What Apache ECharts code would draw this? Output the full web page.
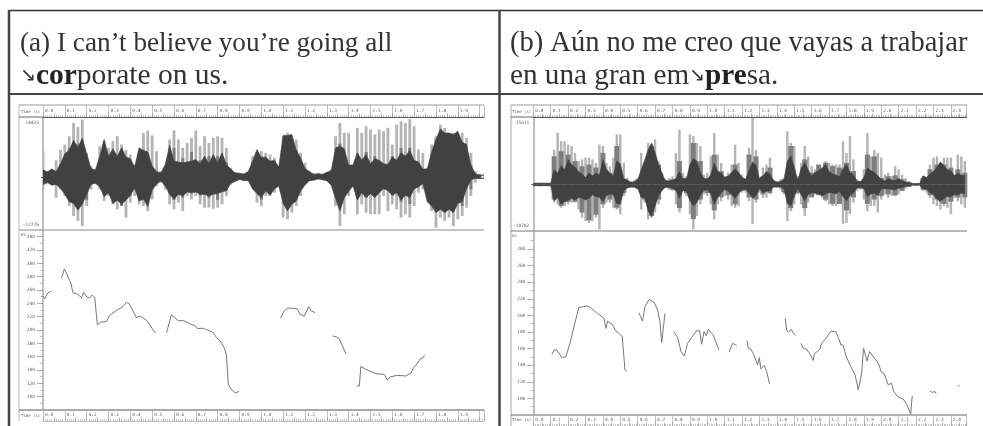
<!DOCTYPE html>
<html><head><meta charset="utf-8">
<script src="https://cdn.jsdelivr.net/npm/echarts@6/dist/echarts.min.js"></script>
<style>html,body{margin:0;padding:0;background:#fff}#c{width:983px;height:426px}</style></head>
<body><div id="c"></div>
<script>
// Waveform envelopes, in thousands of sample units. Light/dark sampled every 0.02 s, mid every 0.04 s.
const waveALightUp=[6.2,1.4,1.8,4,6.5, 7.8,9.8,13,12,13.8, 5.8,2.6,1.4,7.4,8.6, 7,8.6,9.8,7.8,6.5, 5.4,3,5,10.6,11.2, 10,6.2,1.4,2.2,9, 11.2,9,7,8.2,9.4, 11.2,7.4,9.8,8.2,9.4, 9.8,9.4,7,2.2,1, .8,.8,1,5,5.8, 6.2,5.8,5.4,4.6,2.6, 9.8,10.6,7.8,9,5.8, 3.4,1.4,1,.8,.8, 1,1.8,9.8,13,10.6, 10.6,2.2,11.8,10.6,12.2, 11.4,10.2,11.4,11,11.8, 7.8,12.6,13.4,13,13.9, 12.2,6.6,5.8,2.2,7.8, 9.8,12.6,11.8,10.2,10.6, 9.8,10.6,9.4,5.8,1.4, .8,.8];
const waveALightDown=[3,1.8,1.8,5,3, 4.6,7,9.4,10.6,11.8, 7,3,1.8,3,5.8, 4.6,6.6,7.8,6.6,9.8, 6.2,4.6,6.6,7,8.2, 5.4,2.2,1.4,3,6.6, 7.8,6.2,8.2,4.6,5.4, 4.6,6.6,7.4,7.4,7.7, 7.4,6.6,4.6,1.8,1, .6,.6,.6,2.2,6.2, 7,4.6,4.6,3.8,1.8, 9.8,10.2,8.6,7,4.6, 1.8,1,.8,.6,.6, .9,1.8,7,11.8,9, 4.6,1.8,9,6.6,8.6, 9,9,9,4.6,8.2, 6.6,7.8,9.8,9,9.8, 7,3.8,3,2.2,8.2, 12.2,9.8,10.6,9.8,11.8, 10.2,9.4,7.4,4.6,1.4, .5,.5];
const waveAMidUp=[1.5,1.8,3,7,8,4.5,1.4,7.8,5.5,6,3.5,5.5,5.5,1.2,2.2,7,4.5,6,4,5,5,3.5,1,.7,3.6,5,3.5,2,9.5,6.5,2,.6,.6,1.6,8,3,5.5,6,5,3,5,7,7,2,1.5,9,10,9.5,8,3,.6];
const waveAMidDown=[1.5,1.5,2,3.5,7,5.5,1.6,4,5,7,4.5,5,5.5,1.5,2,5.5,5,3.5,4.5,5,5.5,3,.8,.5,1.8,5.5,3.5,1.8,7.5,5.5,1.5,.5,.5,1.5,7,2.5,5,5,4,3,4.5,6,6.5,2,1.5,7,8,8,7,3,.4];
const waveADarkUp=[1.7,1.2,1.9,1.3,3.2, 5.6,6.4,8.8,7,9.4, 5.6,2,1.7,5,9, 5,6.8,5,7,4.8, 4.4,2.4,7,6.4,6, 2.6,1.3,1,3,7.6, 3.8,3.6,3.4,3.6,3.8, 4.2,3.2,5,3.2,5.4, 3.4,5.8,3,1.9,1, .9,.7,1.3,3.8,6.6, 4.6,4.8,3.8,4,2.4, 10,10,10.2,6.4,4.6, 2,1.3,.6,.8,.6, 1.1,1.5,7,7.4,6.8, 2.8,2.9,5.8,4,5.4, 3.2,4.4,4,3.2,3, 4.8,4,5.8,5,6.4, 4,3.6,1.9,1.9,6, 9,11.6,10.6,10.6,10.2, 11,8.4,7.8,2.8,.8, .4,.4];
const waveADarkDown=[1.9,1.3,2,1.8,2.8, 4.2,6,6.4,8,6.6, 4.2,1.8,1.5,2.4,4.8, 3.8,6.4,5.6,6.6,5.6, 4.4,2.7,5.8,5.4,7.2, 3.2,1.7,1,2.2,4.2, 5.4,4.2,4.6,3.6,3.9, 3.6,4.2,4.2,4.6,4.2, 4,3.6,3.3,1.6,1.1, .6,.9,.9,2.9,4, 5,3.4,4.4,2.9,2.2, 6.4,8.2,6.6,5.8,3.4, 2,.9,.8,.5,.7, .9,2,5.2,8.2,5, 3.5,2.2,5.6,3.8,5, 4,5,3.8,2.8,3.3, 4.4,3.8,5.6,4.4,5, 2.9,2.4,1.6,6,7, 8.6,7.8,8.6,7.8,8.6, 6.4,6,2.9,.7,.4, .4,.4];

const waveBLightUp=[.3,.3,.3,.3,.3, .4,8,12,10,10, 9.2,8.9,7.3,5.4,5.8, 6.2,6.2,5.8,5,9.2, 8.9,5,4.2,6.2,11.6, 11.6,5,1.5,.8,1, 1.5,7.3,5,9.6,9.2, 10.4,5.4,2.7,1.3,1.5, 1.9,7.3,12.7,2.7,1.9, 11.6,11.2,9.6,8.9,2.3, 2.7,6.5,11.9,6.9,5, 1.9,2.7,4.6,9.2,5, 2.3,1.2,8.5,15.4,8, 1.2,3.9,4.6,6.2,.8, .8,1.2,1.5,12.3,9.6, 8.9,1.9,5,8.9,6.5, 4.2,3.5,2.3,3.5,5.4, 5,4.6,4.6,4.6,10, 7.3,11.2,5.8,1.2,.8, 3.5,11.9,6.5,8,7.3, 6.2,2.3,2.7,1.9,4.2, 3.5,2.3,1.5,.8,.2, .2,.2,1.9,1.5,4.6, 6.2,6.5,5,6.2,6.2, 6.2,2.3,6.9,6.5,5.4];
const waveBLightDown=[.3,.3,.3,.3,.3, .4,4.2,4.6,5.4,5, 4.6,4.2,4.2,5.8,7.7, 8.5,8.9,8.5,7.7,10.4, 5.4,4.2,4.2,5.4,5.8, 6.9,2.7,.8,.6,.8, 1.2,5.8,4.2,8.1,7.7, 6.5,4.6,1.2,.8,1.2, 1.5,4.6,6.5,1.5,2.7, 6.9,10.4,7.3,4.6,2.3, 2.7,4.6,8.1,4.6,3.9, 2.7,3.5,5,5.4,5, 1.9,1.9,3.9,9.2,4.2, 1.9,3.1,3.1,2.3,.8, .8,1.2,2.3,8.5,6.2, 4.6,2.3,4.6,7.3,4.2, 2.7,2.3,2.3,3.1,3.9, 4.6,5,5,4.6,9.2, 8.9,6.9,4.2,1.5,1.2, 3.5,6.2,5,5,6.5, 3.5,2.3,3.1,2.7,2.7, 2.3,1.5,1,.5,.2, .2,.2,1.5,1.9,3.1, 4.6,5,5.8,5,5.4, 6.9,3.1,3.9,4.6,5.4];
const waveBMidUp=[.3,.3,.3,6.5,7.7,6.9,5.4,4.2,4.6,3.9,7.3,2.7,8.9,1.2,.5,1.2,4.2,8.9,4.6,1,1.2,5.4,1.5,9.6,5.4,1.5,6.9,3.1,1.9,4.6,1.5,6.9,6.5,1.9,3.9,.5,1.2,8.9,1.2,5.8,2.7,4.6,5,4.2,3.9,5,3.1,.8,6.9,6.5,1.5,1.9,2.1,1.2,.5,.2,1.5,3.5,4.6,4.6,3.9,3.5,2.7];
const waveBMidDown=[.3,.3,.3,3.5,5,4,4,6.5,8.3,7,4.6,3.5,5.4,2,.7,1,3.5,7.3,3.5,.8,1.2,5.5,2,8,3.5,2,6,3,2.5,4.6,1.5,3,3.5,2.3,2,.7,1.8,5.5,2,5.5,3,2.5,3.5,4.5,4.5,6,3,1,4.5,3.5,2.7,2.3,2.5,1.5,.6,.2,1.2,2.5,3.5,4.5,4,3,3];
const waveBDarkUp=[.3,.3,.3,.3,.3, .3,3.4,2.6,4.4,3.4, 5.8,4.6,4,3,2.4, 1.6,2.6,2,2.6,2.2, 5.8,3.6,2.6,2,5.4, 4.8,1.4,1,.5,.6, 1,3.4,5.6,8,9.6, 7.4,4.6,2.6,.7,.8, 1,1.4,3,1.4,1.2, 4.6,6,5.4,2.8,1.4, 1.2,2.2,5,3,2.6, 1.6,1.9,2.8,3.6,2.8, 1.6,1.2,3.2,5.2,4.4, 1.4,2,3,2.4,1, .5,.7,1,5.4,6.6, 4,.9,3.8,5,3.4, 1.9,2.8,3.2,3.8,4.6, 3,2.4,2.2,1.8,3.6, 4.6,2.8,2.2,.8,.6, 1.6,3.8,3.2,2.8,2, 1.2,.8,1.4,1,.9, 1.4,.8,.6,.4,.2, .2,.2,2,1.6,2.4, 3,4,5.2,4.4,3.4, 3.2,2,2.6,2.2,2];
const waveBDarkDown=[.3,.3,.3,.3,.3, .3,3.8,3,4.6,4, 3.8,3.2,3.6,3,3.2, 3.6,3.2,2.4,2.8,3, 4,2.6,2.2,2.4,4.4, 4.6,1.4,.8,.6,.6, .9,3,3,6.2,7.4, 5,2.6,1.4,.6,.7, .9,1.4,3.2,1.4,1.5, 3.8,5,4.2,2.6,1.4, 1.2,2.2,4.6,3,1.9, 1.2,1.6,2.4,3.2,2.2, 1.2,1.2,1.9,3.2,2.6, 1,1.9,1.6,1.5,.6, .5,.6,1,4.4,5, 2.8,.8,2.4,3.8,2.4, 1.9,2,2.2,2.6,2.2, 1.9,2,2.2,1.6,2.8, 3.8,2.6,1.9,.8,.6, 1,2.8,2.2,2,2.6, 1,1,1,1.2,1.2, .9,.7,.5,.3,.2, .2,.2,1,1.2,1.9, 2.4,3.4,4,3.2,2.8, 2.8,2.4,2.4,2,2.2];

// Pitch tracks: time (s), frequency (Hz); null separates voiced stretches.
const pitchATime=[0,.008,.023,.036,null,.085,.098,.107,.128,.137,.159,.177,.186,.202,.214,.226,.237,.249,.263,.29,.308,.339,.366,.382,.397,.427,.446,.476,.511,.518,null,.566,.588,.602,.62,.644,.675,.698,.708,.73,.754,.777,.794,.815,.831,.84,.849,.861,.881,.898,null,1.088,1.105,1.121,1.143,1.165,1.177,1.197,1.217,1.229,1.247,null,1.327,1.342,1.357,1.388,null,1.438,1.449,1.456,1.475,1.501,1.525,1.563,1.577,1.589,1.62,1.662,1.687,1.696,1.717,1.727,1.739,1.748];
const pitchAHz=[251,247,256,258,null,277.6,291.5,291.5,270,256,253.6,248.6,256.6,249,248.6,252.6,249,207.7,211.7,212.7,222.7,230,235,241.6,238.7,218.7,221,214,196.8,196.8,null,196,222.7,218.7,214,214,209,206,202,202.7,199.8,196.8,189,181.8,172.8,162.8,118,111.5,105.5,108,null,217.7,229,232.7,232.7,231.7,223.7,220.7,235,228.7,226,null,191,190,186.8,164,null,116,116,145.4,141.4,138,134.4,133.4,125,129.4,132,131,136,143,150.4,156.4,157.9,162.3];
const pitchBTime=[.107,.121,.134,.148,.163,.186,.211,.236,.262,.272,.287,.31,.335,.364,.383,.406,.418,.427,.454,.473,.492,.511,.527,.536,null,.607,.628,.642,.665,.695,.715,.728,.738,.757,null,.807,.83,.839,.849,.868,.887,.91,.939,.956,.967,.981,.994,1.006,1.034,1.067,null,1.126,1.146,1.155,1.169,null,1.228,1.236,1.251,1.266,1.289,1.299,1.308,1.328,1.341,1.351,1.358,null,1.448,1.456,1.466,1.481,1.496,1.508,null,1.538,1.552,1.571,1.59,1.609,1.615,1.647,1.657,1.686,1.709,1.738,1.753,1.768,1.78,1.797,1.82,1.849,1.858,1.868,1.887,1.898,1.918,1.933,1.944,1.96,1.983,2.002,2.017,2.04,2.059,2.071,2.098,2.126,2.151,2.161,2.169,2.178,null,2.28,2.293,2.308,2.316,null,2.439,2.45];
const pitchBHz=[153.2,158.4,158.4,154.4,149.2,150,166.4,188.4,209.6,207.2,210.4,211.6,208.4,203.2,200.4,196.4,184.4,193.2,189.2,181.6,178.4,174.4,134.4,132.4,null,203.2,193.2,210.4,219.2,215.6,206.4,192.4,167.2,202.4,null,180.4,173.2,172.4,156.4,151.2,166.4,173.6,181.6,181.6,165.2,180.4,175.6,183.2,176.4,158.4,null,156,166.4,167.2,163.6,null,169.6,160.4,159.2,153.2,140.4,149.2,135.6,139.6,132.4,130.4,117.6,null,196.4,182.4,179.6,183.2,178.4,176,null,166.4,160.4,159.2,153.6,145.6,153.6,159.2,166.4,173.6,180.8,180.4,173.6,164.4,164.4,151.2,140.4,128.4,126.4,110.4,130.4,160.4,145.2,156.4,156.4,148.4,142.4,131.2,129.6,116.4,118.4,108.4,101.6,99.2,91.2,90.4,81,103.2,null,108.8,107.2,108.4,105.6,null,114,116];

// Tick labels
const pitchATicks=[340,320,300,280,260,240,220,200,180,160,140,120,100];
const pitchBTicks=[280,260,240,220,200,180,160,140,120,100];
const waveARange=[-12776,14423];
const waveBRange=[-10782,15611];
const timeMaxA=2.02, timeMaxB=2.491;
const headA=["(a) I can’t believe you’re going all","↘","cor","porate on us."];
const headB=["(b) Aún no me creo que vayas a trabajar","en una gran em","↘","pre","sa."];

const LIGHT='#b4b4b4', MID='#7e7e7e', DARK='#414141', TXT='#666', MONO='"DejaVu Sans Mono","Liberation Mono",monospace', SERIF='"Liberation Serif",serif', FS=4.5;
const grid=[],xAxis=[],yAxis=[],series=[];
function addGrid(left,width,top,height){grid.push({left,width,top,height,containLabel:false,show:false});return grid.length-1;}
function blankX(g,max){xAxis.push({type:'value',gridIndex:g,min:0,max,show:false});return xAxis.length-1;}
function ruler(left,width,top,height,max,lineColor){
  const g=addGrid(left,width,top,height);
  xAxis.push({type:'value',gridIndex:g,min:0,max,interval:.1,position:'bottom',
    axisLine:{show:true,onZero:false,lineStyle:{color:lineColor,width:1}},
    axisTick:{show:true,inside:true,length:height,lineStyle:{color:'#999',width:.6}},
    minorTick:{show:true,splitNumber:10,length:2,lineStyle:{color:'#888',width:.5}},
    splitLine:{show:false},minorSplitLine:{show:false},
    axisLabel:{show:true,inside:true,margin:4,align:'left',padding:[0,0,0,2],fontSize:FS,fontFamily:MONO,color:TXT,showMinLabel:true,showMaxLabel:false,hideOverlap:false,formatter:v=>v>=2.0&&max<2.1?'':v.toFixed(1)}});
  xAxis.push({type:'value',gridIndex:g,min:0,max,interval:.05,position:'bottom',
    axisLine:{show:false},axisTick:{show:true,inside:true,length:4,lineStyle:{color:'#888',width:.5}},
    axisLabel:{show:false},splitLine:{show:false}});
  yAxis.push({type:'value',gridIndex:g,min:0,max:1,show:false});
}
function env(arr,step,sign){return arr.map((v,i)=>[i*step,sign*v*1000]);}
function area(x,y,data,color){series.push({type:'line',xAxisIndex:x,yAxisIndex:y,data,showSymbol:false,silent:true,animation:false,
  lineStyle:{color,width:.6},itemStyle:{color},areaStyle:{color,opacity:1,origin:0}});}
function sticks(x,y,data,color,w){series.push({type:'custom',xAxisIndex:x,yAxisIndex:y,data,silent:true,animation:false,clip:true,
  encode:{x:0,y:1},
  renderItem:(p,api)=>{const a=api.coord([api.value(0),api.value(1)]),b=api.coord([api.value(0),0]);
    const t=Math.min(a[1],b[1]);
    return {type:'rect',shape:{x:a[0]-w/2,y:t,width:w,height:Math.abs(a[1]-b[1])},style:{fill:color}};}});}
function wave(left,width,top,height,max,range,L,M,D,o){
  const g=addGrid(left,width,top,height);
  const x=blankX(g,max);
  yAxis.push({type:'value',gridIndex:g,min:range[0],max:range[1],position:'left',
    axisLine:{show:true,onZero:false,lineStyle:{color:'#aaa',width:1.5}},
    axisTick:{show:true,length:2,customValues:[0],lineStyle:{color:'#555'}},
    axisLabel:{show:true,margin:4,fontSize:FS,fontFamily:MONO,color:TXT,customValues:range,verticalAlignMinLabel:'bottom',verticalAlignMaxLabel:'top',padding:[3,0,3,0],formatter:v=>String(v)},
    splitLine:{show:false}});
  const y=yAxis.length-1;
  sticks(x,y,env(L[0],L[2],1),LIGHT,o.wL);sticks(x,y,env(L[1],L[2],-1),LIGHT,o.wL);
  sticks(x,y,env(M[0],M[2],1),MID,o.wM);sticks(x,y,env(M[1],M[2],-1),MID,o.wM);
  area(x,y,env(D[0],D[2],1),DARK);area(x,y,env(D[1],D[2],-1),DARK);
}
function pitch(left,width,top,height,max,yMin,yMax,ticks,times,hz){
  const g=addGrid(left,width,top,height);
  const x=blankX(g,max);
  const minors=[];for(let v=ticks[0]+10;v>=ticks[ticks.length-1]-10;v-=10) if(!ticks.includes(v)) minors.push(v);
  yAxis.push({type:'value',gridIndex:g,min:yMin,max:yMax,position:'left',
    axisLine:{show:true,onZero:false,lineStyle:{color:'#aaa',width:1.5}},
    axisTick:{show:true,length:6,customValues:ticks,lineStyle:{color:'#777',width:.6}},
    axisLabel:{show:true,margin:8,fontSize:FS,fontFamily:MONO,color:TXT,customValues:ticks,formatter:v=>String(v)},
    splitLine:{show:false}});
  const y=yAxis.length-1;
  yAxis.push({type:'value',gridIndex:g,min:yMin,max:yMax,position:'left',axisLine:{show:false},
    axisTick:{show:true,length:3,customValues:minors,lineStyle:{color:'#999',width:.6}},
    axisLabel:{show:false},splitLine:{show:false}});
  series.push({type:'line',xAxisIndex:x,yAxisIndex:y,data:times.map((t,i)=>[t,hz[i]]),connectNulls:false,showSymbol:false,silent:true,animation:false,
    lineStyle:{color:'#777',width:1},itemStyle:{color:'#777'}});
}

// Panel (a)
ruler(43,441,105,12,timeMaxA,'#555');
wave(43,441,117,113,timeMaxA,waveARange,[waveALightUp,waveALightDown,.02],[waveAMidUp,waveAMidDown,.04],[waveADarkUp,waveADarkDown,.02],{wL:2.8,wM:3});
pitch(43,441,230,180,timeMaxA,80,350,pitchATicks,pitchATime,pitchAHz);
ruler(43,441,410,11,timeMaxA,'#bbb');
// Panel (b)
ruler(533.3,433.4,105,12,timeMaxB,'#555');
wave(533.3,433.4,117,114,timeMaxB,waveBRange,[waveBLightUp,waveBLightDown,.02],[waveBMidUp,waveBMidDown,.04],[waveBDarkUp,waveBDarkDown,.02],{wL:2.4,wM:5});
pitch(533.3,433.4,231,184,timeMaxB,80,301.7,pitchBTicks,pitchBTime,pitchBHz);
ruler(533.3,433.4,415,11,timeMaxB,'#aaa');

const ln=(x1,y1,x2,y2,stroke,lineWidth)=>({type:'line',silent:true,shape:{x1,y1,x2,y2},style:{stroke,lineWidth}});
const tx=(x,y,text)=>({type:'text',silent:true,x,y,style:{text,font:'4px '+MONO,fill:TXT,textVerticalAlign:'middle'}});
const INKT='#333';
const mkRich=H=>({n:{fontFamily:'"Liberation Serif"',fontSize:H,fill:INKT},b:{fontFamily:'"Liberation Serif"',fontSize:H,fontWeight:'bold',fill:'#222'},ar:{fontFamily:'"DejaVu Sans"',fontSize:19,fill:INKT}});
const graphic=[
  ln(9,10.5,983,10.5,'#333',1.5), ln(9,94,983,94,'#444',2),
  ln(9,10,9,426,'#444',2.5), ln(499.5,10,499.5,426,'#444',2.5),
  // panel frames
  ln(19,105,484,105,'#bdbdbd',1.5), ln(19,105,19,421,'#bbb',1), ln(19,117,43,117,'#666',1),
  ln(19,230,484,230,'#b0b0b0',1.5), ln(19,410,484,410,'#555',1),
  ln(511,105,967,105,'#bdbdbd',1.5), ln(511,105,511,426,'#aaa',1), ln(511,117,533,117,'#666',1),
  ln(511,231,967,231,'#777',1), ln(511,415,967,415,'#666',1),
  tx(21,112,'Time (s)'), tx(21,235,'Hz'), tx(21,416,'Time (s)'),
  tx(512,112,'Time (s)'), tx(512,236,'Hz'), tx(512,420,'Time (s)'),
  {type:'text',silent:true,x:20,y:44,style:{text:headA[0],font:`27.2px ${SERIF}`,fill:INKT,textVerticalAlign:'middle'}},
  {type:'text',silent:true,x:20,y:76,style:{text:`{ar|${headA[1]}}{b|${headA[2]}}{n|${headA[3]}}`,rich:mkRich(29.5),textVerticalAlign:'middle'}},
  {type:'text',silent:true,x:510,y:44,style:{text:headB[0],font:`28.5px ${SERIF}`,fill:INKT,textVerticalAlign:'middle'}},
  {type:'text',silent:true,x:510,y:76,style:{text:`{n|${headB[1]}}{ar|${headB[2]}}{b|${headB[3]}}{n|${headB[4]}}`,rich:mkRich(29.2),textVerticalAlign:'middle'}}
];

const chart=echarts.init(document.getElementById('c'),null,{renderer:'canvas'});
chart.setOption({animation:false,backgroundColor:'#fff',tooltip:{show:false},grid,xAxis,yAxis,series,graphic:{elements:graphic}});
</script></body></html>
